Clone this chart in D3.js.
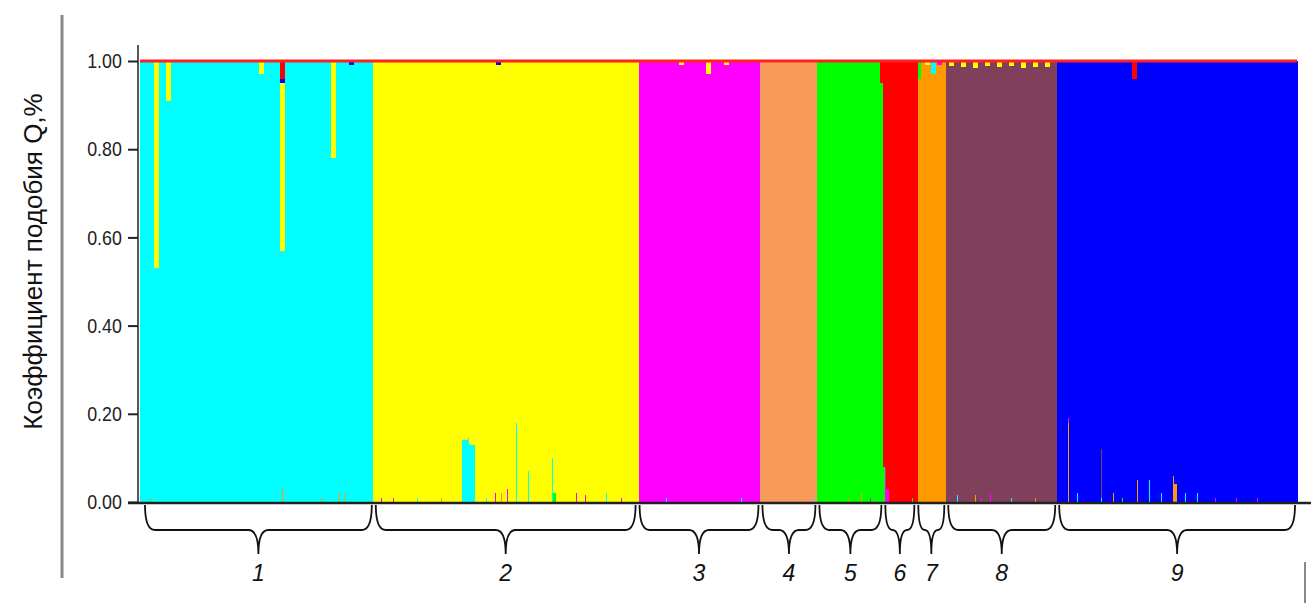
<!DOCTYPE html>
<html>
<head>
<meta charset="utf-8">
<script src="https://cdn.jsdelivr.net/npm/d3@7"></script>
<style>
  body { margin: 0; background: #fff; }
  svg { display: block; }
</style>
</head>
<body>
<svg id="chart" width="1311" height="613"></svg>
<script>
// Группы (популяции) и число особей в каждой
const groupLabels = ["1", "2", "3", "4", "5", "6", "7", "8", "9"];
const groupSizes = [78, 88, 41, 19, 22, 11, 10, 37, 80];
// Основной кластер каждой группы
const groupCluster = ["cyan", "yellow", "magenta", "salmon", "green", "red", "orange", "brown", "blue"];
// Порядок кластеров снизу вверх и их цвета
const clusterOrder = ["orange", "cyan", "magenta", "salmon", "green", "brown", "yellow", "blue", "red"];
const clusterColors = ["#ff9900", "#00ffff", "#ff00ff", "#f79a5a", "#00ff00", "#80405c", "#ffff00", "#0000ff", "#ff0000"];
// Примеси: [особь, кластер, доля]
const admixture = [
  [5, "yellow", 0.47], [9, "yellow", 0.09], [40, "yellow", 0.03], [47, "yellow", 0.38], [47, "red", 0.04],
  [47, "blue", 0.01], [47, "orange", 0.03], [60, "orange", 0.01], [64, "yellow", 0.22], [70, "blue", 0.01],
  [3, "orange", 0.01], [66, "orange", 0.02], [68, "orange", 0.02],
  [80, "magenta", 0.01], [84, "magenta", 0.01], [92, "cyan", 0.01], [100, "orange", 0.01],
  [107, "cyan", 0.14], [108, "cyan", 0.14], [109, "cyan", 0.145], [110, "cyan", 0.13], [111, "cyan", 0.13],
  [115, "cyan", 0.01], [118, "magenta", 0.02], [120, "orange", 0.02], [122, "magenta", 0.03],
  [125, "cyan", 0.18], [129, "cyan", 0.07], [137, "cyan", 0.10], [138, "green", 0.02], [119, "blue", 0.01],
  [145, "magenta", 0.02], [148, "magenta", 0.015], [155, "cyan", 0.02], [160, "magenta", 0.01],
  [175, "cyan", 0.01], [180, "yellow", 0.01], [189, "yellow", 0.03], [195, "yellow", 0.01], [200, "cyan", 0.01],
  [224, "cyan", 0.01], [236, "orange", 0.01], [240, "orange", 0.02], [243, "magenta", 0.01], [247, "red", 0.05],
  [248, "magenta", 0.08], [249, "magenta", 0.03], [257, "green", 0.01],
  [259, "green", 0.04], [262, "yellow", 0.01], [264, "cyan", 0.03], [266, "magenta", 0.01],
  [270, "yellow", 0.012], [274, "yellow", 0.014], [278, "yellow", 0.015], [282, "yellow", 0.012], [286, "yellow", 0.014],
  [290, "yellow", 0.012], [294, "yellow", 0.015], [298, "yellow", 0.013], [302, "yellow", 0.014], [280, "magenta", 0.01],
  [272, "cyan", 0.015], [278, "orange", 0.015], [283, "magenta", 0.02], [290, "cyan", 0.01], [298, "orange", 0.01],
  [309, "orange", 0.18], [309, "magenta", 0.01], [312, "cyan", 0.02], [320, "brown", 0.11], [320, "cyan", 0.01],
  [324, "orange", 0.02], [331, "red", 0.04], [332, "orange", 0.05], [336, "cyan", 0.05], [340, "cyan", 0.02],
  [344, "orange", 0.06], [345, "orange", 0.04], [348, "cyan", 0.02], [352, "cyan", 0.02], [358, "magenta", 0.01],
  [365, "magenta", 0.01], [372, "magenta", 0.01], [327, "green", 0.01]
];
const yTicks = [0, 0.2, 0.4, 0.6, 0.8, 1.0];
const yTitle = "Коэффициент подобия Q,%";

const svg = d3.select("#chart");
const plot = {left: 140, right: 1297, top: 61, bottom: 502};
const nTotal = d3.sum(groupSizes);

const x = d3.scaleLinear().domain([0, nTotal]).range([plot.left, plot.right]);
const y = d3.scaleLinear().domain([0, 1]).range([plot.bottom, plot.top]);
const color = d3.scaleOrdinal().domain(clusterOrder).range(clusterColors);

// Матрица долей по особям
const starts = d3.cumsum([0, ...groupSizes]);
const rows = [];
groupSizes.forEach((n, g) => {
  for (let i = 0; i < n; i++) {
    const r = {idx: starts[g] + i};
    clusterOrder.forEach(c => r[c] = 0);
    rows.push(r);
  }
});
admixture.forEach(([i, c, v]) => rows[i][c] += v);
rows.forEach(r => {
  const g = d3.bisectRight(starts, r.idx) - 1;
  const other = d3.sum(clusterOrder, c => r[c]);
  r[groupCluster[g]] += 1 - other;
});

const series = d3.stack().keys(clusterOrder)(rows);

svg.append("g").attr("shape-rendering", "crispEdges")
  .selectAll("g").data(series).join("g")
  .attr("fill", d => color(d.key))
  .selectAll("rect").data(d => d).join("rect")
  .attr("x", d => Math.floor(x(d.data.idx)))
  .attr("width", d => Math.ceil(x(d.data.idx + 1)) - Math.floor(x(d.data.idx)) + 1)
  .attr("y", d => y(d[1]))
  .attr("height", d => Math.max(0, y(d[0]) - y(d[1])));

// красная линия сверху
svg.append("line")
  .attr("x1", plot.left).attr("x2", plot.right)
  .attr("y1", y(1)).attr("y2", y(1))
  .attr("stroke", "#ff2020").attr("stroke-width", 3);

// ось Y
const axisY = svg.append("g").attr("transform", `translate(${plot.left - 2},0)`)
  .call(d3.axisLeft(y).tickValues(yTicks).tickFormat(d3.format(".2f")).tickSize(10).tickSizeOuter(0));
axisY.select(".domain").attr("d", `M0,45V${plot.bottom}`).attr("stroke", "#222").attr("stroke-width", 1.5);
axisY.selectAll(".tick line").attr("stroke", "#222").attr("stroke-width", 2);
axisY.selectAll(".tick text")
  .attr("x", -19)
  .style("font-family", "Liberation Sans, Arial, sans-serif")
  .style("font-size", "21px").attr("fill", "#222")
  .attr("transform", "scale(0.85,1)");

// ось X
svg.append("line")
  .attr("x1", plot.left - 12).attr("x2", 1311)
  .attr("y1", plot.bottom + 1).attr("y2", plot.bottom + 1)
  .attr("stroke", "#222").attr("stroke-width", 2.5);

// серые линии
svg.append("line").attr("x1", 62).attr("x2", 62).attr("y1", 15).attr("y2", 578)
  .attr("stroke", "#888").attr("stroke-width", 3);
svg.append("line").attr("x1", 1305).attr("x2", 1305).attr("y1", 562).attr("y2", 603)
  .attr("stroke", "#888").attr("stroke-width", 2);

// подпись оси Y
svg.append("text")
  .attr("transform", `translate(42,${(plot.top + plot.bottom) / 2 - 20}) rotate(-90)`)
  .attr("text-anchor", "middle")
  .style("font-family", "Liberation Sans, Arial, sans-serif")
  .style("font-size", "26px").attr("fill", "#111")
  .text(yTitle);

// фигурные скобки групп
function brace(x0, x1, top, mid, tip) {
  const xm = (x0 + x1) / 2, r = Math.min(10, (x1 - x0) / 4);
  return `M${x0},${top} Q${x0},${mid} ${x0 + r},${mid} L${xm - r},${mid} Q${xm},${mid} ${xm},${tip}` +
         `M${x1},${top} Q${x1},${mid} ${x1 - r},${mid} L${xm + r},${mid} Q${xm},${mid} ${xm},${tip}`;
}
const braces = svg.append("g");
groupSizes.forEach((n, g) => {
  const x0 = x(starts[g]) + (g === 0 ? 5 : 2), x1 = x(starts[g + 1]) - 2;
  braces.append("path")
    .attr("d", brace(x0, x1, plot.bottom + 3, plot.bottom + 28, plot.bottom + 52))
    .attr("fill", "none").attr("stroke", "#111").attr("stroke-width", 1.8);
  braces.append("text")
    .attr("x", (x0 + x1) / 2).attr("y", 581)
    .attr("text-anchor", "middle")
    .style("font-family", "Liberation Sans, Arial, sans-serif")
    .style("font-size", "23px").style("font-style", "italic").attr("fill", "#111")
    .text(groupLabels[g]);
});
</script>
</body>
</html>
